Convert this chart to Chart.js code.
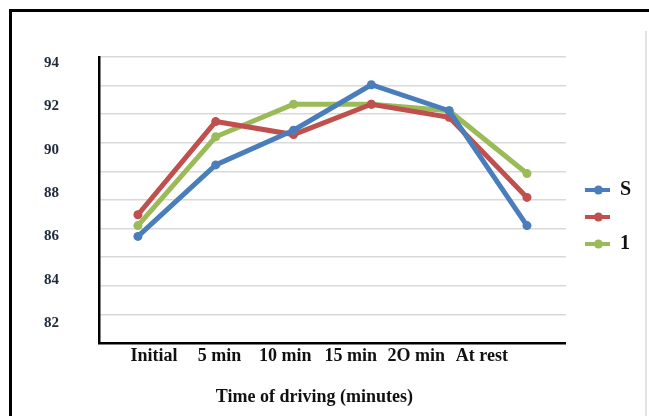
<!DOCTYPE html>
<html>
<head>
<meta charset="utf-8">
<script src="https://cdn.jsdelivr.net/npm/chart.js@4.4.1/dist/chart.umd.min.js"></script>
<style>
  html, body { margin: 0; padding: 0; background: #fff; }
  body { width: 649px; height: 416px; position: relative; overflow: hidden; }
  .frame { position: absolute; left: 9px; top: 9px; width: 700px; height: 500px;
           border-top: 3px solid #000; border-left: 3px solid #000; }
  .edge { position: absolute; left: 645px; top: 31px; width: 2px; height: 400px; background: #e2e2e2; }
  #chart-wrap { position: absolute; left: 0; top: 0; width: 649px; height: 416px; }
</style>
</head>
<body>
<div class="frame"></div>
<div class="edge"></div>
<div id="chart-wrap"><canvas id="chart"></canvas></div>
<script>
// categories and values
const categories = ['Initial', '5 min', '10 min', '15 min', '2O min', 'At rest'];
const seriesNames = ['S', '', '1'];
const seriesS = [86.0, 89.3, 90.9, 93.0, 91.8, 86.5];
const seriesRed = [87.0, 91.3, 90.7, 92.1, 91.5, 87.8];
const series1 = [86.5, 90.6, 92.1, 92.1, 91.8, 88.9];
const yTickLabels = [94, 92, 90, 88, 86, 84, 82];
const xTitle = 'Time of driving (minutes)';

const colors = ['#4a7ebb', '#c0504d', '#9bbb59'];
const serif = "'Liberation Serif', 'DejaVu Serif', serif";

// line + dot marker for the legend
function legendMarker(color) {
  const c = document.createElement('canvas');
  c.width = 37;
  c.height = 10;
  const ctx = c.getContext('2d');
  ctx.strokeStyle = color;
  ctx.lineWidth = 4;
  ctx.beginPath();
  ctx.moveTo(12, 5);
  ctx.lineTo(37, 5);
  ctx.stroke();
  ctx.fillStyle = color;
  ctx.beginPath();
  ctx.arc(25.5, 5, 4.5, 0, Math.PI * 2);
  ctx.fill();
  return c;
}

const yMin = 81.08;
const yMax = 94.28;

new Chart(document.getElementById('chart'), {
  type: 'line',
  data: {
    labels: categories,
    datasets: [seriesS, seriesRed, series1].map((values, i) => ({
      label: seriesNames[i],
      data: values,
      borderColor: colors[i],
      backgroundColor: colors[i],
      pointBackgroundColor: colors[i],
      borderWidth: 5,
      pointRadius: 4.5,
      pointBorderWidth: 0,
      tension: 0,
    })),
  },
  options: {
    responsive: true,
    maintainAspectRatio: false,
    animation: false,
    layout: { padding: { left: 30, top: 57, right: 8, bottom: 8 } },
    scales: {
      x: {
        type: 'category',
        offset: true,
        weight: 0,
        grid: { display: false, drawTicks: false },
        border: { color: '#000', width: 2.5 },
        ticks: { display: false },
        afterFit: (scale) => { scale.height = 0; },
      },
      // separate axis for the category text, which sits off the data points
      x2: {
        type: 'linear',
        position: 'bottom',
        weight: 1,
        min: -0.838,
        max: 6.28,
        grid: { display: false, drawTicks: false },
        border: { display: false },
        afterBuildTicks: (scale) => { scale.ticks = categories.map((c, i) => ({ value: i })); },
        ticks: {
          padding: 3,
          autoSkip: false,
          maxRotation: 0,
          color: '#111',
          font: { family: serif, size: 18, weight: 'bold' },
          callback: (v) => categories[v],
        },
        title: {
          display: true,
          // trailing no-break spaces shift the centred title left, as in the picture
          text: xTitle + '\u00a0'.repeat(8),
          color: '#111',
          padding: { top: 0, bottom: 0 },
          font: { family: serif, size: 18, weight: 'bold' },
        },
        afterFit: (scale) => { scale.height = 65; },
      },
      y: {
        min: yMin,
        max: yMax,
        weight: 0,
        grid: { color: '#d9d9d9', lineWidth: 1.5, drawTicks: false },
        border: { color: '#000', width: 2.5 },
        ticks: { display: false },
        afterBuildTicks: (scale) => {
          const ticks = [];
          for (let i = 0; i <= 10; i++) ticks.push({ value: yMin + i * (yMax - yMin) / 10 });
          scale.ticks = ticks;
        },
        afterFit: (scale) => { scale.width = 0; },
      },
      // tick text column, spaced differently from the gridlines
      y2: {
        position: 'left',
        min: yMin,
        max: yMax,
        weight: 1,
        grid: { display: false, drawTicks: false },
        border: { display: false },
        afterBuildTicks: (scale) => { scale.ticks = yTickLabels.map(v => ({ value: v })); },
        ticks: {
          padding: 40,
          color: '#1f2a3a',
          font: { family: serif, size: 15, weight: 'bold' },
        },
        afterFit: (scale) => { scale.width = 69; },
      },
    },
    plugins: {
      tooltip: { enabled: false },
      legend: {
        position: 'right',
        fullSize: false,
        title: { display: true, text: '', padding: { top: 22, bottom: 0 }, font: { size: 10 } },
        labels: {
          usePointStyle: true,
          pointStyleWidth: 37,
          padding: 7,
          color: '#111',
          font: { family: serif, size: 20, weight: 'bold' },
          generateLabels: (chart) => chart.data.datasets.map((ds, i) => ({
            text: ds.label,
            pointStyle: legendMarker(colors[i]),
            fillStyle: colors[i],
            strokeStyle: colors[i],
            fontColor: '#111',
            lineWidth: 0,
            datasetIndex: i,
            hidden: false,
          })),
        },
      },
    },
  },
});
</script>
</body>
</html>
